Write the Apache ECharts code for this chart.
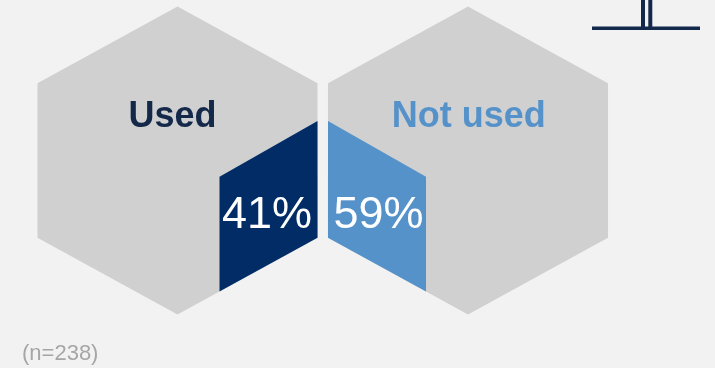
<!DOCTYPE html>
<html>
<head>
<meta charset="utf-8">
<script src="https://cdn.jsdelivr.net/npm/echarts@6/dist/echarts.min.js"></script>
<style>
  html, body { margin: 0; padding: 0; background: #f2f2f2; }
  #chart { width: 715px; height: 368px; }
</style>
</head>
<body>
<div id="chart"></div>
<script>
// Usage split shown as two hexagon tiles
const categories = ['Used', 'Not used'];
const shares = [41, 59];
const sampleSize = 238;

const FONT = '"Liberation Sans", Arial, sans-serif';
const HEX_GREY = '#d0d0d0';
const fills = ['#012c66', '#5592c9'];
const titleColors = ['#14294a', '#5592c9'];

const chart = echarts.init(document.getElementById('chart'), null, { renderer: 'canvas' });

function renderHex(params, api) {
  const i = api.value(0);
  const v = api.value(1);
  const cx = api.coord([i, 0.5])[0];
  const yAt = f => api.coord([i, f])[1];
  const hw = api.size([1, 0])[0] * 0.482;

  const hex = [
    [cx, yAt(1)], [cx + hw, yAt(0.751)], [cx + hw, yAt(0.249)],
    [cx, yAt(0)], [cx - hw, yAt(0.249)], [cx - hw, yAt(0.751)]
  ];

  // coloured facet sits on the side facing the other tile,
  // its lower edge running along the hexagon's lower edge
  const side = i === 0 ? 1 : -1;
  const outer = cx + side * hw;
  const inner = cx + side * 0.30 * hw;
  const facet = [
    [inner, yAt(0.447)], [outer, yAt(0.628)],
    [outer, yAt(0.249)], [inner, yAt(0.0747)]
  ];

  const titleShift = i === 0 ? -0.035 : 0.005;

  return {
    type: 'group',
    children: [
      { type: 'polygon', shape: { points: hex }, style: { fill: HEX_GREY } },
      { type: 'polygon', shape: { points: facet }, style: { fill: fills[i] } },
      {
        type: 'text',
        x: cx + titleShift * hw, y: yAt(0.641),
        style: {
          text: categories[i], fill: titleColors[i],
          font: 'bold 36px ' + FONT, align: 'center', verticalAlign: 'middle'
        }
      },
      {
        type: 'text',
        x: (inner + outer) / 2 - side * 1.5, y: yAt(0.320),
        style: {
          text: v + '%', fill: '#ffffff',
          font: '45px ' + FONT, align: 'center', verticalAlign: 'middle'
        }
      }
    ]
  };
}

chart.setOption({
  backgroundColor: '#f2f2f2',
  animation: false,
  grid: { left: 32.25, width: 581, top: 6.5, height: 308 },
  xAxis: { type: 'category', data: categories, show: false, boundaryGap: true },
  yAxis: { type: 'value', min: 0, max: 1, show: false },
  series: [{
    type: 'custom',
    silent: true,
    renderItem: renderHex,
    data: categories.map((c, i) => [i, shares[i]])
  }],
  graphic: [
    // corner emblem
    { type: 'rect', shape: { x: 592, y: 26.5, width: 108, height: 3.5 }, style: { fill: '#13294b' } },
    { type: 'rect', shape: { x: 641, y: 0, width: 4, height: 28 }, style: { fill: '#13294b' } },
    { type: 'rect', shape: { x: 648.3, y: 0, width: 4, height: 28 }, style: { fill: '#13294b' } },
    {
      type: 'text', left: 22, top: 343,
      style: { text: '(n=' + sampleSize + ')', fill: '#a6a6a6', font: '22px ' + FONT }
    }
  ]
});
</script>
</body>
</html>
